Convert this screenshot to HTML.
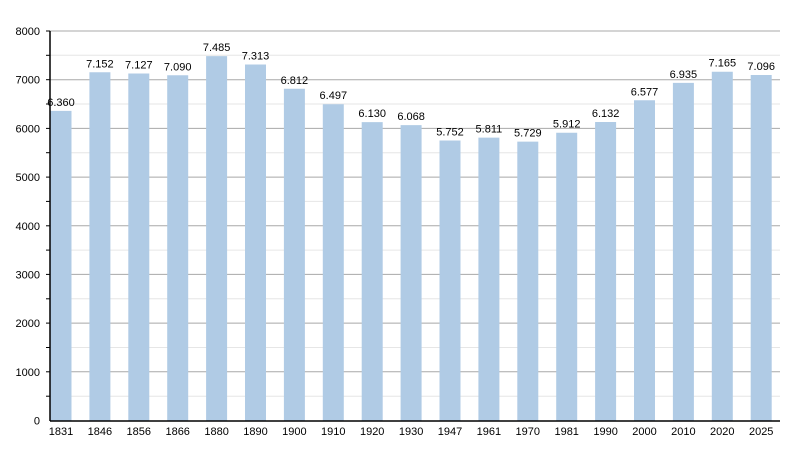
<!DOCTYPE html>
<html><head><style>body{margin:0;background:#fff}svg{display:block;font-family:"Liberation Sans",sans-serif}</style></head><body>
<svg width="800" height="450" xmlns="http://www.w3.org/2000/svg">
<g stroke="#e6e6e6">
<line x1="50" x2="780" y1="396.2" y2="396.2"/><line x1="50" x2="780" y1="347.5" y2="347.5"/><line x1="50" x2="780" y1="298.8" y2="298.8"/><line x1="50" x2="780" y1="250.1" y2="250.1"/><line x1="50" x2="780" y1="201.4" y2="201.4"/><line x1="50" x2="780" y1="152.7" y2="152.7"/><line x1="50" x2="780" y1="104" y2="104"/><line x1="50" x2="780" y1="55.3" y2="55.3"/>
</g>
<g stroke="#a8a8a8">
<line x1="50" x2="780" y1="371.8" y2="371.8"/><line x1="50" x2="780" y1="323.1" y2="323.1"/><line x1="50" x2="780" y1="274.4" y2="274.4"/><line x1="50" x2="780" y1="225.8" y2="225.8"/><line x1="50" x2="780" y1="177.1" y2="177.1"/><line x1="50" x2="780" y1="128.4" y2="128.4"/><line x1="50" x2="780" y1="79.7" y2="79.7"/><line x1="50" x2="780" y1="31" y2="31"/>
</g>
<g stroke="#000">
<line x1="46" x2="50" y1="396.2" y2="396.2"/><line x1="46" x2="50" y1="371.8" y2="371.8"/><line x1="46" x2="50" y1="347.5" y2="347.5"/><line x1="46" x2="50" y1="323.1" y2="323.1"/><line x1="46" x2="50" y1="298.8" y2="298.8"/><line x1="46" x2="50" y1="274.4" y2="274.4"/><line x1="46" x2="50" y1="250.1" y2="250.1"/><line x1="46" x2="50" y1="225.8" y2="225.8"/><line x1="46" x2="50" y1="201.4" y2="201.4"/><line x1="46" x2="50" y1="177.1" y2="177.1"/><line x1="46" x2="50" y1="152.7" y2="152.7"/><line x1="46" x2="50" y1="128.4" y2="128.4"/><line x1="46" x2="50" y1="104" y2="104"/><line x1="46" x2="50" y1="79.7" y2="79.7"/><line x1="46" x2="50" y1="55.3" y2="55.3"/><line x1="46" x2="50" y1="31" y2="31"/>
</g>
<g font-size="11" text-anchor="end">
<text x="40" y="424.5">0</text><text x="40" y="375.8">1000</text><text x="40" y="327.1">2000</text><text x="40" y="278.4">3000</text><text x="40" y="229.8">4000</text><text x="40" y="181.1">5000</text><text x="40" y="132.4">6000</text><text x="40" y="83.7">7000</text><text x="40" y="35">8000</text>
</g>
<g stroke="#b0cbe5" stroke-width="21">
<line x1="61" x2="61" y1="110.9" y2="421"/>
<line x1="99.9" x2="99.9" y1="72.3" y2="421"/>
<line x1="138.8" x2="138.8" y1="73.5" y2="421"/>
<line x1="177.7" x2="177.7" y1="75.3" y2="421"/>
<line x1="216.6" x2="216.6" y1="56.1" y2="421"/>
<line x1="255.5" x2="255.5" y1="64.5" y2="421"/>
<line x1="294.4" x2="294.4" y1="88.8" y2="421"/>
<line x1="333.3" x2="333.3" y1="104.2" y2="421"/>
<line x1="372.2" x2="372.2" y1="122.1" y2="421"/>
<line x1="411.1" x2="411.1" y1="125.1" y2="421"/>
<line x1="450" x2="450" y1="140.5" y2="421"/>
<line x1="488.9" x2="488.9" y1="137.6" y2="421"/>
<line x1="527.8" x2="527.8" y1="141.6" y2="421"/>
<line x1="566.7" x2="566.7" y1="132.7" y2="421"/>
<line x1="605.6" x2="605.6" y1="122" y2="421"/>
<line x1="644.5" x2="644.5" y1="100.3" y2="421"/>
<line x1="683.4" x2="683.4" y1="82.9" y2="421"/>
<line x1="722.3" x2="722.3" y1="71.7" y2="421"/>
<line x1="761.2" x2="761.2" y1="75" y2="421"/>
</g>
<g font-size="11" text-anchor="middle">
<text x="61" y="105.9">6.360</text>
<text x="99.9" y="67.3">7.152</text>
<text x="138.8" y="68.5">7.127</text>
<text x="177.7" y="70.3">7.090</text>
<text x="216.6" y="51.1">7.485</text>
<text x="255.5" y="59.5">7.313</text>
<text x="294.4" y="83.8">6.812</text>
<text x="333.3" y="99.2">6.497</text>
<text x="372.2" y="117.1">6.130</text>
<text x="411.1" y="120.1">6.068</text>
<text x="450" y="135.5">5.752</text>
<text x="488.9" y="132.6">5.811</text>
<text x="527.8" y="136.6">5.729</text>
<text x="566.7" y="127.7">5.912</text>
<text x="605.6" y="117">6.132</text>
<text x="644.5" y="95.3">6.577</text>
<text x="683.4" y="77.9">6.935</text>
<text x="722.3" y="66.7">7.165</text>
<text x="761.2" y="70">7.096</text>
</g>
<g font-size="11" text-anchor="middle">
<text x="61" y="435">1831</text><text x="99.9" y="435">1846</text><text x="138.8" y="435">1856</text><text x="177.7" y="435">1866</text><text x="216.6" y="435">1880</text><text x="255.5" y="435">1890</text><text x="294.4" y="435">1900</text><text x="333.3" y="435">1910</text><text x="372.2" y="435">1920</text><text x="411.1" y="435">1930</text><text x="450" y="435">1947</text><text x="488.9" y="435">1961</text><text x="527.8" y="435">1970</text><text x="566.7" y="435">1981</text><text x="605.6" y="435">1990</text><text x="644.5" y="435">2000</text><text x="683.4" y="435">2010</text><text x="722.3" y="435">2020</text><text x="761.2" y="435">2025</text>
</g>
<line x1="50" x2="50" y1="31" y2="421" stroke="#000" stroke-width="1.5"/>
<line x1="50" x2="780" y1="421" y2="421" stroke="#000" stroke-width="1.5"/>
</svg></body></html>
